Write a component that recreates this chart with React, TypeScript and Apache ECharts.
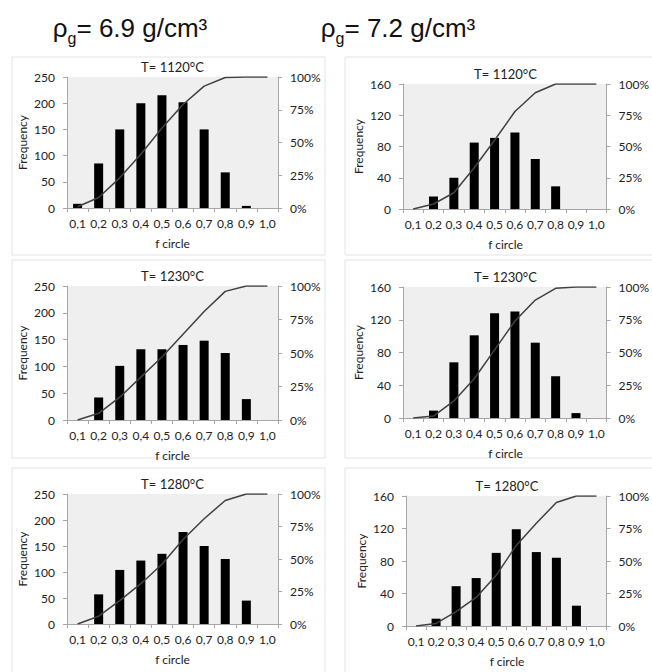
import React, { useEffect, useRef } from "react";
import * as echarts from "echarts";

const categories = ["0,1", "0,2", "0,3", "0,4", "0,5", "0,6", "0,7", "0,8", "0,9", "1,0"];

const freq69_1120 = [8, 85, 150, 200, 215, 202, 150, 68, 4, 0];
const cum69_1120 = [1, 8, 23, 41, 61, 79, 93, 99.6, 100, 100];
const freq72_1120 = [0, 16, 40, 85, 91, 98, 64, 29, 0, 0];
const cum72_1120 = [0, 4, 13, 33, 55, 78, 93, 100, 100, 100];
const freq69_1230 = [0, 42, 101, 132, 132, 140, 148, 125, 39, 0];
const cum69_1230 = [0, 5, 17, 32, 47, 64, 81, 96, 100, 100];
const freq72_1230 = [0, 9, 68, 101, 128, 130, 92, 51, 6, 0];
const cum72_1230 = [0, 1.5, 13, 30, 52, 74, 90, 99, 100, 100];
const freq69_1280 = [0, 57, 104, 122, 135, 177, 150, 125, 45, 0];
const cum69_1280 = [0, 6, 18, 31, 46, 65, 81, 95, 100, 100];
const freq72_1280 = [0, 9, 49, 59, 90, 119, 91, 84, 25, 0];
const cum72_1280 = [0, 2, 11, 22, 39, 62, 79, 95, 100, 100];

const freqTicks69 = { max: 250, interval: 50 };
const freqTicks72 = { max: 160, interval: 40 };
const pctTicks = { max: 100, interval: 25 };

const panelTitles = ["T= 1120°C", "T= 1120°C", "T= 1230°C", "T= 1230°C", "T= 1280°C", "T= 1280°C"];
const headerDensities = ["6.9", "7.2"];

const FONT = "Lato, 'Open Sans', sans-serif";
const AXIS_COLOR = "#a6a6a6";
const TEXT_COLOR = "#222222";

const panels = [
  { freq: freq69_1120, cum: cum69_1120, ticks: freqTicks69, grid: { left: 67, top: 77, width: 211, height: 131 }, box: [12, 57, 313, 198] },
  { freq: freq72_1120, cum: cum72_1120, ticks: freqTicks72, grid: { left: 403, top: 84, width: 205, height: 125 }, box: [345, 57, 320, 198] },
  { freq: freq69_1230, cum: cum69_1230, ticks: freqTicks69, grid: { left: 67, top: 286, width: 211, height: 134 }, box: [12, 260, 313, 198] },
  { freq: freq72_1230, cum: cum72_1230, ticks: freqTicks72, grid: { left: 403, top: 287, width: 205, height: 131 }, box: [345, 260, 320, 198] },
  { freq: freq69_1280, cum: cum69_1280, ticks: freqTicks69, grid: { left: 67, top: 494, width: 211, height: 130 }, box: [12, 468, 313, 210] },
  { freq: freq72_1280, cum: cum72_1280, ticks: freqTicks72, grid: { left: 406, top: 496, width: 202, height: 130 }, box: [345, 468, 320, 210] },
];

export default function App() {
  const ref = useRef<HTMLDivElement>(null);
  useEffect(() => {
    if (!ref.current) return;
    const chart = echarts.init(ref.current, undefined, { renderer: "svg" });

    const grids: any[] = [];
    const xAxes: any[] = [];
    const yAxes: any[] = [];
    const series: any[] = [];
    const graphics: any[] = [];

    panels.forEach((p, i) => {
      grids.push({
        ...p.grid,
        show: true,
        backgroundColor: "#efefef",
        borderWidth: 0,
        borderColor: "transparent",
      });
      xAxes.push({
        gridIndex: i,
        type: "category",
        data: categories,
        boundaryGap: true,
        axisLine: { show: true, lineStyle: { color: AXIS_COLOR, width: 1 } },
        axisTick: { show: true, alignWithLabel: false, length: 4, lineStyle: { color: AXIS_COLOR } },
        axisLabel: { interval: 0, color: TEXT_COLOR, fontSize: 12, fontFamily: FONT, margin: 9 },
        splitLine: { show: false },
      });
      yAxes.push({
        gridIndex: i,
        type: "value",
        position: "left",
        min: 0,
        max: p.ticks.max,
        interval: p.ticks.interval,
        axisLine: { show: true, lineStyle: { color: AXIS_COLOR, width: 1 } },
        axisTick: { show: true, length: 4, lineStyle: { color: AXIS_COLOR } },
        axisLabel: { color: TEXT_COLOR, fontSize: 12, fontFamily: FONT, margin: 12 },
        splitLine: { show: false },
      });
      yAxes.push({
        gridIndex: i,
        type: "value",
        position: "right",
        min: 0,
        max: pctTicks.max,
        interval: pctTicks.interval,
        axisLine: { show: true, lineStyle: { color: AXIS_COLOR, width: 1 } },
        axisTick: { show: true, length: 4, lineStyle: { color: AXIS_COLOR } },
        axisLabel: { color: TEXT_COLOR, fontSize: 12, fontFamily: FONT, margin: 12, formatter: "{value}%" },
        splitLine: { show: false },
      });
      series.push({
        type: "bar",
        xAxisIndex: i,
        yAxisIndex: 2 * i,
        data: p.freq,
        barWidth: 9,
        itemStyle: { color: "#000000" },
      });
      series.push({
        type: "line",
        xAxisIndex: i,
        yAxisIndex: 2 * i + 1,
        data: p.cum,
        showSymbol: false,
        symbol: "none",
        lineStyle: { color: "#404040", width: 1.5 },
      });

      const [bx, by, bw, bh] = p.box;
      graphics.push({
        type: "rect",
        shape: { x: bx, y: by, width: bw, height: bh },
        style: { fill: "none", stroke: "#e4e4e4", lineWidth: 1 },
        z: -10,
      });
      const cx = p.grid.left + p.grid.width / 2;
      graphics.push({
        type: "text",
        x: cx,
        y: p.grid.top - 10,
        style: { text: panelTitles[i], fill: TEXT_COLOR, font: `13px ${FONT}`, textAlign: "center", textVerticalAlign: "middle" },
      });
      graphics.push({
        type: "text",
        x: cx,
        y: p.grid.top + p.grid.height + 35,
        style: { text: "f circle", fill: TEXT_COLOR, font: `12px ${FONT}`, textAlign: "center", textVerticalAlign: "middle" },
      });
      graphics.push({
        type: "text",
        x: p.grid.left - 45,
        y: p.grid.top + p.grid.height / 2,
        rotation: Math.PI / 2,
        style: { text: "Frequency", fill: TEXT_COLOR, font: `12px ${FONT}`, textAlign: "center", textVerticalAlign: "middle" },
      });
    });

    const headerX = [130, 398];
    headerDensities.forEach((d, k) => {
      graphics.push({
        type: "text",
        x: headerX[k],
        y: 28,
        style: {
          text: `{a|ρ}{b|g}{a|= ${d} g/cm³}`,
          textAlign: "center",
          textVerticalAlign: "middle",
          rich: {
            a: { fontSize: 26, fontFamily: "'Liberation Sans', Arial, sans-serif", fill: "#111", lineHeight: 36, verticalAlign: "middle" },
            b: { fontSize: 16, fontFamily: "'Liberation Sans', Arial, sans-serif", fill: "#111", lineHeight: 36, verticalAlign: "bottom" },
          },
        },
      });
    });

    chart.setOption({
      animation: false,
      backgroundColor: "#ffffff",
      grid: grids,
      xAxis: xAxes,
      yAxis: yAxes,
      series,
      graphic: graphics,
    });
    return () => chart.dispose();
  }, []);

  return <div ref={ref} style={{ position: "fixed", left: 0, top: 0, width: 652, height: 672 }} />;
}
